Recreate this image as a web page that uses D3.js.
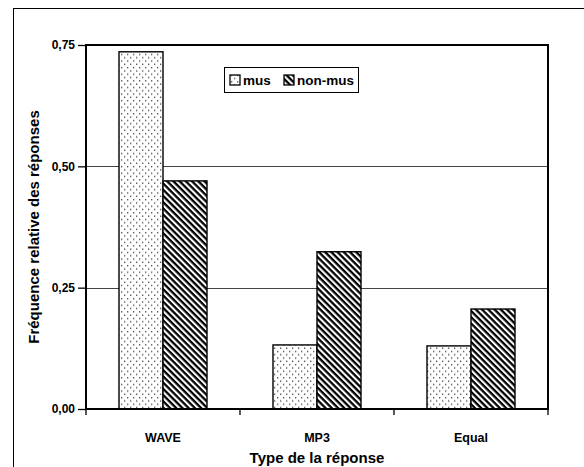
<!DOCTYPE html>
<html>
<head>
<meta charset="utf-8">
<script src="https://cdn.jsdelivr.net/npm/d3@7"></script>
<style>
  body { margin: 0; background: #fff; }
  svg { display: block; font-family: Arial, "Liberation Sans", sans-serif; }
</style>
</head>
<body>
<div id="chart"></div>
<script>
var categories = ["WAVE", "MP3", "Equal"];
var seriesNames = ["mus", "non-mus"];
var musValues = [0.736, 0.132, 0.130];
var nonMusValues = [0.470, 0.324, 0.206];
var yTicks = [0, 0.25, 0.5, 0.75];

var width = 584, height = 467;
var plotLeft = 86, plotTop = 45, plotRight = 548, plotBottom = 409;

var svg = d3.select("#chart")
	.append("svg")
	.attr("width", width)
	.attr("height", height);

// motifs des barres
var defs = svg.append("defs");
var dots = defs.append("pattern")
	.attr("id", "dots")
	.attr("patternUnits", "userSpaceOnUse")
	.attr("width", 6).attr("height", 6.6);
dots.append("rect").attr("width", 6).attr("height", 6.6).attr("fill", "#fff");
dots.append("rect").attr("x", 1).attr("y", 1).attr("width", 1.3).attr("height", 1.3).attr("fill", "#444");
dots.append("rect").attr("x", 4).attr("y", 4.3).attr("width", 1.3).attr("height", 1.3).attr("fill", "#444");

var hatch = defs.append("pattern")
	.attr("id", "hatch")
	.attr("patternUnits", "userSpaceOnUse")
	.attr("width", 4.4).attr("height", 4.4)
	.attr("patternTransform", "rotate(45)");
hatch.append("rect").attr("width", 4.4).attr("height", 4.4).attr("fill", "#fff");
hatch.append("rect").attr("width", 4.4).attr("height", 2.3).attr("fill", "#000");

var fills = ["url(#dots)", "url(#hatch)"];

// cadre extérieur
svg.append("rect")
	.attr("x", 13.5).attr("y", 8.5)
	.attr("width", 700).attr("height", 600)
	.attr("fill", "none").attr("stroke", "#000").attr("stroke-width", 1);

var x = d3.scaleBand().domain(categories).range([plotLeft, plotRight]).paddingInner(0).paddingOuter(0);
var y = d3.scaleLinear().domain([0, 0.75]).range([plotBottom, plotTop]);
var barW = x.bandwidth() / 3.5;

// quadrillage
svg.append("g")
	.selectAll("line")
	.data(yTicks.filter(function(d){ return d > 0 && d < 0.75; }))
	.enter().append("line")
	.attr("x1", plotLeft).attr("x2", plotRight)
	.attr("y1", function(d){ return Math.round(y(d)) + 0.5; })
	.attr("y2", function(d){ return Math.round(y(d)) + 0.5; })
	.attr("stroke", "#444").attr("stroke-width", 1);

// barres
var series = [musValues, nonMusValues];
series.forEach(function(vals, s){
	svg.append("g")
		.selectAll("rect")
		.data(vals)
		.enter().append("rect")
		.attr("x", function(d, i){ return x(categories[i]) + barW * 0.75 + s * barW; })
		.attr("y", function(d){ return y(d); })
		.attr("width", barW)
		.attr("height", function(d){ return plotBottom - y(d); })
		.attr("fill", fills[s])
		.attr("stroke", "#000")
		.attr("stroke-width", 1.4);
});

// bord du graphique
svg.append("rect")
	.attr("x", plotLeft).attr("y", plotTop)
	.attr("width", plotRight - plotLeft).attr("height", plotBottom - plotTop)
	.attr("fill", "none").attr("stroke", "#000").attr("stroke-width", 2);

// axe y
var yAxis = svg.append("g")
	.attr("transform", "translate(" + plotLeft + ",0)")
	.call(d3.axisLeft(y).tickValues(yTicks).tickSize(8).tickPadding(3)
		.tickFormat(function(d){ return d3.format(".2f")(d).replace(".", ","); }));
yAxis.select(".domain").remove();
yAxis.selectAll("line").attr("stroke", "#000").attr("stroke-width", 1.3);
yAxis.selectAll("text")
	.style("font-size", "12px").style("font-weight", "bold")
	.attr("fill", "#000");

// graduations x aux limites des catégories
svg.append("g")
	.selectAll("line")
	.data(categories.concat(["end"]))
	.enter().append("line")
	.attr("x1", function(d, i){ return plotLeft + i * x.step(); })
	.attr("x2", function(d, i){ return plotLeft + i * x.step(); })
	.attr("y1", plotBottom).attr("y2", plotBottom + 6)
	.attr("stroke", "#000").attr("stroke-width", 1.3);

svg.append("g")
	.selectAll("text")
	.data(categories)
	.enter().append("text")
	.attr("x", function(d){ return x(d) + x.bandwidth() / 2; })
	.attr("y", 442)
	.attr("text-anchor", "middle")
	.style("font-size", "12.5px").style("font-weight", "bold")
	.text(function(d){ return d; });

// titres des axes
svg.append("text")
	.attr("x", (plotLeft + plotRight) / 2)
	.attr("y", 463)
	.attr("text-anchor", "middle")
	.style("font-size", "15px").style("font-weight", "bold")
	.text("Type de la réponse");

svg.append("text")
	.attr("transform", "translate(39," + ((plotTop + plotBottom) / 2) + ") rotate(-90)")
	.attr("text-anchor", "middle")
	.style("font-size", "15px").style("font-weight", "bold")
	.text("Fréquence relative des réponses");

// légende
var lg = svg.append("g").attr("transform", "translate(224,67)");
lg.append("rect")
	.attr("x", 0.5).attr("y", 0.5).attr("width", 134).attr("height", 25)
	.attr("fill", "#fff").attr("stroke", "#000").attr("stroke-width", 1);
var legendX = [6, 60];
seriesNames.forEach(function(name, s){
	lg.append("rect")
		.attr("x", legendX[s]).attr("y", 8)
		.attr("width", 10).attr("height", 10)
		.attr("fill", fills[s]).attr("stroke", "#000").attr("stroke-width", 1.3);
	lg.append("text")
		.attr("x", legendX[s] + 13).attr("y", 18)
		.style("font-size", "13.5px").style("font-weight", "bold")
		.text(name);
});
</script>
</body>
</html>
